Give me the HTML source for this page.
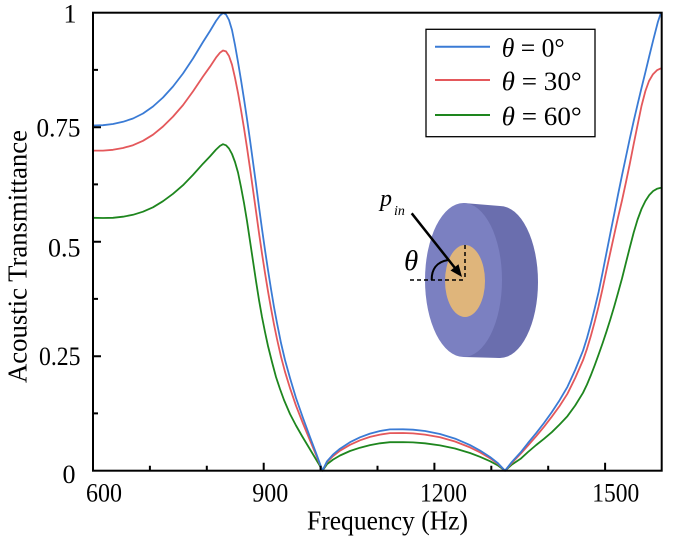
<!DOCTYPE html>
<html>
<head>
<meta charset="utf-8">
<style>
html,body{margin:0;padding:0;background:#fff;width:678px;height:547px;overflow:hidden}
svg{display:block}
</style>
</head>
<body>
<svg width="678" height="547" viewBox="0 0 678 547" xmlns="http://www.w3.org/2000/svg" font-family="'Liberation Serif', 'Times New Roman', serif">
<rect x="0" y="0" width="678" height="547" fill="#fff"/>

<!-- inset disk -->
<g>
  <polygon points="463.5,203 500,206 500,358 463.5,357" fill="#6a6eae"/>
  <ellipse cx="500" cy="282" rx="38" ry="76" fill="#6a6eae"/>
  <ellipse cx="463.5" cy="280" rx="38.5" ry="77" fill="#7b80c1"/>
  <ellipse cx="465" cy="281" rx="20" ry="36" fill="#dfb57b"/>
  <path d="M410,280 H465 M465,245 V280" stroke="#000" stroke-width="1.5" stroke-dasharray="4,3" fill="none"/>
  <path d="M431.7,280 C431.5,270 436,262 448,260" stroke="#000" stroke-width="2" fill="none"/>
  <line x1="411.7" y1="213.3" x2="455" y2="268" stroke="#000" stroke-width="2.5"/>
  <polygon points="462,277 450.5,270.5 458.5,264.2" fill="#000"/>
  <g font-family="'Liberation Serif', 'Times New Roman', serif" fill="#000" font-style="italic">
    <text x="380" y="206" font-size="24">p</text>
    <text x="394" y="215" font-size="14">in</text>
    <text x="404" y="270" font-size="29">θ</text>
  </g>
</g>

<!-- curves -->
<g fill="none" stroke-width="1.8" stroke-linejoin="round">
<polyline stroke="#1e861e" points="93,217.8 103,218 113,217.8 123,216.7 133,214.8 143,211.7 153,207.3 163,201.2 173,193.8 183,185.2 193,174.9 203,163.7 210,156.4 216,149.6 220,145.9 223,144.2 226,145.3 229,148.5 232,154 235,162 238,172.5 241,187 244,203 247,221 250,241 253,261 256,281 259,300 262,317 265,332 268,346 272,362 276,377 280,389 284,400 290,414 296,425.5 302,436 308,446 314,456 318.5,463.5 322.5,470.7 327,464.2 333,459.6 340,455.5 350,451 360,447.7 370,445.1 380,443.3 390,442.2 403,442.1 413,442.4 425,443.3 440,445.4 455,448.5 470,453 480,456.8 490,461.2 498,465.5 505,470.7 512,464.5 520.6,458.8 528,452 536.2,445 544,438.8 551.8,432.2 559.6,424.5 567.4,416.2 575.2,405.5 583,392.8 587,384.5 590.8,375.4 594.7,365.3 598.6,354.6 602.5,343.5 606.4,331.8 610.3,319.5 614.2,306.5 618,293 622,278.5 626,262.5 629.8,247.5 633.7,232.5 637.6,219.5 641.5,209 645.4,201 649.3,195 653.2,191 657,188.8 661,187.7"/>
<polyline stroke="#e4585b" points="93,150.6 103,150.6 113,149.8 123,148 133,145.2 143,140.8 153,134.7 163,126.5 173,116.6 183,105.1 193,91.4 203,76.5 210,66.7 216,57.6 220,52.7 223,50.5 226,51.4 229,56 232,64.7 235,77.8 238,92.9 241,110 244,128.1 247,147.6 250,168.3 253,189.7 256,211.2 259,233 262,253.6 265,273 268,291.3 271,308.3 274,324.5 277,339 281,356.7 285,371.8 290,388.1 296,405.7 303,423.5 310,440.4 316,454.8 322.5,470.7 327,462.1 333,456.1 340,450.7 350,444.8 360,440.3 370,436.9 380,434.6 390,433.1 403,433 413,433.4 425,434.6 440,437.3 455,441.5 470,447.4 480,452.3 490,458.2 498,463.9 505,470.7 512,462.8 520.6,453.8 528,445.5 536.2,436.2 544,426.8 551.8,416.7 559.6,406 567.4,393.8 575.2,378 583,360.3 587,348.8 590.8,336.1 594.7,321.8 598.6,306.3 602.5,289 606.4,270.6 610.3,252.5 614.2,234.8 618,217.5 622,200.5 626,182 629.8,163.8 633.7,144 637.6,124.9 641.5,106 645.4,91 649,81 653,74.2 657,70.2 661,68.3"/>
<polyline stroke="#3a7bd5" points="93,125.5 103,125.2 113,124 123,121.8 133,118.5 143,113.5 153,106.5 163,97.5 173,86.5 183,73.5 193,58.5 203,42 210,31 216,21 220,15.5 223,13 226,14.5 229,20 232,30 235,45 238,62 241,80 244,99 247,119 250,140 253,162 256,184 259,207 262,229 265,250 268,270 271,289 274,307 277,323 281,343 285,360 290,378 296,398 303,418 310,437 316,453 322.5,470.7 327,461.3 333,454.6 340,448.7 350,442.2 360,437.3 370,433.6 380,431 390,429.4 403,429.3 413,429.7 425,431 440,434 455,438.6 470,445.1 480,450.5 490,457 498,463.2 505,470.7 512,461.8 520.6,452.4 528,443 536.2,433.1 544,423 551.8,412.1 559.6,400.2 567.4,386.9 575.2,369.9 583,350.7 587,338 590.8,324.1 594.7,308.5 598.6,292.1 602.5,273 606.4,253.2 610.3,233.5 614.2,214.2 618,194.8 622,175.3 626,156.5 629.8,138.6 633.7,121 637.6,104.3 641.5,88 645.4,72.2 649.3,56 653.2,40.2 657.9,21.9 661,12.7"/>
</g>

<!-- frame -->
<rect x="93" y="12.7" width="568.7" height="458" fill="none" stroke="#000" stroke-width="2"/>

<!-- ticks -->
<path d="M93,470.7V462.7 M263.7,470.7V462.7 M434.4,470.7V462.7 M605.1,470.7V462.7
 M149.9,470.7V465.7 M206.8,470.7V465.7 M320.6,470.7V465.7 M377.5,470.7V465.7 M491.3,470.7V465.7 M548.2,470.7V465.7
 M93,356.2H101 M93,241.7H101 M93,127.2H101
 M93,413.4H98 M93,298.9H98 M93,184.4H98 M93,69.9H98" stroke="#000" stroke-width="2" fill="none"/>

<g font-family="'Liberation Serif', 'Times New Roman', serif" fill="#000">
<!-- y tick labels -->
<text x="70" y="22.3" font-size="26" text-anchor="middle">1</text>
<text x="36.5" y="136.5" font-size="26" textLength="44" lengthAdjust="spacingAndGlyphs">0.75</text>
<text x="48" y="256.7" font-size="26" textLength="32.5" lengthAdjust="spacingAndGlyphs">0.5</text>
<text x="39" y="365" font-size="26" textLength="41.5" lengthAdjust="spacingAndGlyphs">0.25</text>
<text x="69" y="483" font-size="26" text-anchor="middle">0</text>

<!-- x tick labels -->
<text x="86" y="501.7" font-size="26" textLength="36" lengthAdjust="spacingAndGlyphs">600</text>
<text x="252.3" y="501.7" font-size="26" textLength="36" lengthAdjust="spacingAndGlyphs">900</text>
<text x="420" y="501.7" font-size="26" textLength="47" lengthAdjust="spacingAndGlyphs">1200</text>
<text x="592.3" y="501.7" font-size="26" textLength="47" lengthAdjust="spacingAndGlyphs">1500</text>

<!-- axis labels -->
<text x="307" y="529.5" font-size="27" textLength="161" lengthAdjust="spacingAndGlyphs">Frequency (Hz)</text>
<text transform="translate(26.7,256.5) rotate(-90)" font-size="27" text-anchor="middle" textLength="253" lengthAdjust="spacingAndGlyphs">Acoustic Transmittance</text>
</g>

<!-- legend -->
<rect x="426" y="29.3" width="169" height="107.4" fill="#fff" stroke="#000" stroke-width="1.3"/>
<line x1="435" y1="46.7" x2="490" y2="46.7" stroke="#3a7bd5" stroke-width="2"/>
<line x1="435" y1="80" x2="490" y2="80" stroke="#e4585b" stroke-width="2"/>
<line x1="435" y1="115" x2="490" y2="115" stroke="#1e861e" stroke-width="2"/>
<g font-family="'Liberation Serif', 'Times New Roman', serif" fill="#000">
<text x="501.7" y="56.5" font-size="26" textLength="63" lengthAdjust="spacingAndGlyphs"><tspan font-style="italic">θ</tspan> = 0°</text>
<text x="501.7" y="90" font-size="26" textLength="80" lengthAdjust="spacingAndGlyphs"><tspan font-style="italic">θ</tspan> = 30°</text>
<text x="501.7" y="125" font-size="26" textLength="80" lengthAdjust="spacingAndGlyphs"><tspan font-style="italic">θ</tspan> = 60°</text>
</g>
</svg>
</body>
</html>
